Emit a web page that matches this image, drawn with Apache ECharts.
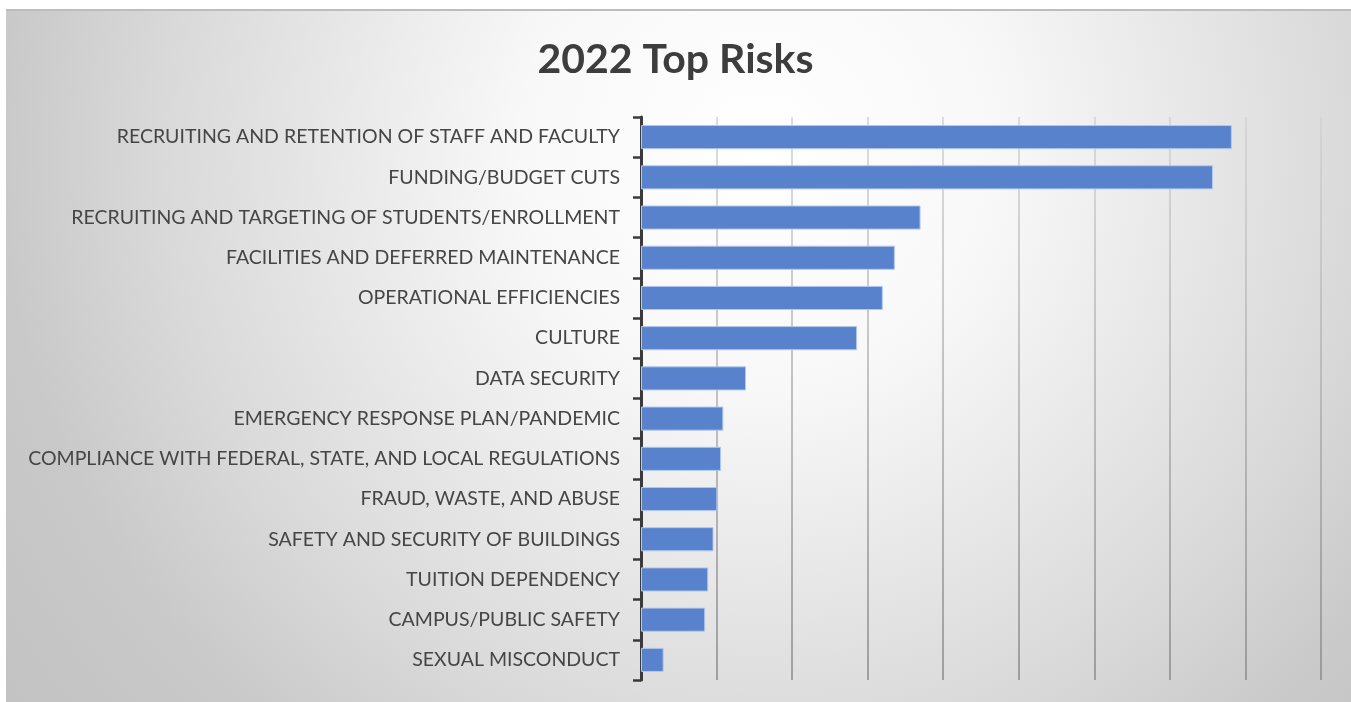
<!DOCTYPE html>
<html>
<head>
<meta charset="utf-8">
<title>2022 Top Risks</title>
<script src="https://cdn.jsdelivr.net/npm/echarts@6/dist/echarts.min.js"></script>
<style>
  html, body { margin: 0; padding: 0; background: #ffffff; }
  #chart { width: 1351px; height: 702px; }
</style>
</head>
<body>
<div id="chart"></div>
<script>
// Risk categories, ranked from most to least cited
const categories = [
  'RECRUITING AND RETENTION OF STAFF AND FACULTY',
  'FUNDING/BUDGET CUTS',
  'RECRUITING AND TARGETING OF STUDENTS/ENROLLMENT',
  'FACILITIES AND DEFERRED MAINTENANCE',
  'OPERATIONAL EFFICIENCIES',
  'CULTURE',
  'DATA SECURITY',
  'EMERGENCY RESPONSE PLAN/PANDEMIC',
  'COMPLIANCE WITH FEDERAL, STATE, AND LOCAL REGULATIONS',
  'FRAUD, WASTE, AND ABUSE',
  'SAFETY AND SECURITY OF BUILDINGS',
  'TUITION DEPENDENCY',
  'CAMPUS/PUBLIC SAFETY',
  'SEXUAL MISCONDUCT'
];

// Share of respondents naming each risk (%)
const values = [78.2, 75.7, 37.0, 33.6, 32.0, 28.6, 13.9, 10.9, 10.6, 10.1, 9.6, 8.9, 8.5, 3.0];

const chartTitle = '2022 Top Risks';

const chart = echarts.init(document.getElementById('chart'));

const option = {
  animation: false,
  backgroundColor: '#ffffff',
  graphic: [
    {
      type: 'rect',
      z: -10,
      silent: true,
      shape: { x: 6, y: 9, width: 1345, height: 693 },
      style: {
        fill: {
          type: 'radial', global: true,
          x: 760, y: 150, r: 950,
          colorStops: [
            { offset: 0, color: '#ffffff' },
            { offset: 0.25, color: '#f8f8f8' },
            { offset: 0.63, color: '#d9d9d9' },
            { offset: 0.8, color: '#c9c9c9' },
            { offset: 1, color: '#c2c2c2' }
          ]
        }
      }
    },
    {
      type: 'line',
      z: -9,
      silent: true,
      shape: { x1: 6, y1: 10, x2: 1351, y2: 10 },
      style: { stroke: '#bdbdbd', lineWidth: 2 }
    }
  ],
  title: {
    text: chartTitle,
    left: 'center',
    top: 34,
    textStyle: {
      fontFamily: 'Lato',
      fontWeight: 'bold',
      fontSize: 41,
      color: '#3d3d3d'
    }
  },
  grid: {
    left: 641,
    right: 30,
    top: 117,
    bottom: 22,
    containLabel: false
  },
  xAxis: {
    type: 'value',
    min: 0,
    max: 90,
    interval: 10,
    axisLabel: { show: false },
    axisLine: { show: false },
    axisTick: { show: false },
    splitLine: {
      show: true,
      lineStyle: {
        width: 1.5,
        color: {
          type: 'linear', global: true,
          x: 0, y: 117, x2: 0, y2: 680,
          colorStops: [
            { offset: 0, color: '#d2d2d2' },
            { offset: 1, color: '#8a8a8a' }
          ]
        }
      }
    }
  },
  yAxis: {
    type: 'category',
    data: categories,
    inverse: true,
    axisLine: { show: true, lineStyle: { color: '#3a3a3a', width: 3 } },
    axisTick: { show: true, length: 8, lineStyle: { color: '#3a3a3a', width: 2.5 } },
    axisLabel: {
      margin: 21,
      fontFamily: 'Lato',
      fontSize: 19.5,
      color: '#454545'
    },
    splitLine: { show: false }
  },
  series: [
    {
      type: 'bar',
      data: values,
      barWidth: '60%',
      itemStyle: {
        color: '#5882cc',
        borderColor: '#b4c8ec',
        borderWidth: 1
      }
    }
  ]
};

chart.setOption(option);
</script>
</body>
</html>
